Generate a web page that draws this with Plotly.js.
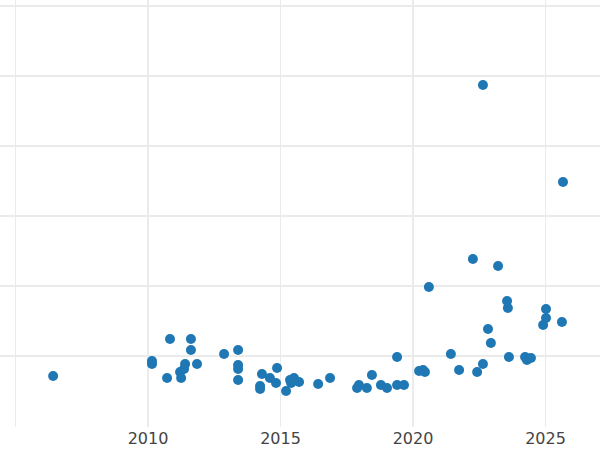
<!DOCTYPE html>
<html>
<head>
<meta charset="utf-8">
<script src="https://cdn.plot.ly/plotly-3.0.1.min.js"></script>
<style>html,body{margin:0;padding:0;background:#fff;}#chart{width:600px;height:450px;}</style>
</head>
<body>
<div id="chart"></div>
<script>
const years = [
  2006.42, 2010.15, 2010.15, 2010.83, 2011.62, 2011.62, 2010.72, 2011.40, 2011.36, 2011.21,
  2011.25, 2011.85, 2012.87, 2013.40, 2013.40, 2013.40, 2013.40, 2014.30, 2014.23, 2014.23,
  2014.60, 2014.87, 2014.83, 2015.21, 2015.40, 2015.51, 2015.70, 2015.36, 2016.42, 2016.87,
  2017.89, 2017.96, 2018.26, 2018.45, 2018.79, 2019.02, 2019.40, 2019.40, 2019.66, 2020.23,
  2020.38, 2020.45, 2020.60, 2021.43, 2021.74, 2022.26, 2022.42, 2022.64, 2022.64, 2022.83,
  2022.94, 2023.21, 2023.55, 2023.58, 2023.62, 2024.23, 2024.30, 2024.45, 2024.91, 2025.02,
  2025.02, 2025.62, 2025.66
];
const values = [
  7.14, 9.29, 8.86, 12.43, 12.43, 10.86, 6.86, 8.86, 8.14, 7.71,
  6.86, 8.86, 10.29, 10.86, 8.71, 8.14, 6.57, 7.43, 5.71, 5.29,
  6.86, 8.29, 6.14, 5.00, 6.14, 6.86, 6.29, 6.57, 6.00, 6.86,
  5.43, 5.86, 5.43, 7.29, 5.86, 5.43, 9.86, 5.86, 5.86, 7.86,
  8.00, 7.71, 19.86, 10.29, 8.00, 23.86, 7.71, 48.71, 8.86, 13.86,
  11.86, 22.86, 17.86, 16.86, 9.86, 9.86, 9.43, 9.71, 14.43, 15.43,
  16.71, 14.86, 34.86
];
const xTickVals = [2005, 2010, 2015, 2020, 2025];
const xTickText = ['', '2010', '2015', '2020', '2025'];
const yGridVals = [10, 20, 30, 40, 50, 60];

const trace = {
  x: years, y: values, type: 'scatter', mode: 'markers',
  marker: {color: '#1f77b4', size: 10},
  hoverinfo: 'x+y'
};
const layout = {
  width: 600, height: 450,
  margin: {l: 0, r: 0, t: 0, b: 23, pad: 0},
  paper_bgcolor: '#ffffff', plot_bgcolor: '#ffffff',
  showlegend: false,
  font: {family: 'DejaVu Sans, Verdana, sans-serif', color: '#444444', size: 16},
  xaxis: {
    range: [2004.415, 2027.057], tickvals: xTickVals, ticktext: xTickText,
    showgrid: true, gridcolor: '#ebebeb', gridwidth: 1.5, zeroline: false,
    showline: false, ticks: '', tickfont: {size: 16, color: '#444444'}
  },
  yaxis: {
    range: [-0.143, 60.857], tickvals: yGridVals, showticklabels: false,
    showgrid: true, gridcolor: '#ebebeb', gridwidth: 1.5, zeroline: false,
    showline: false, ticks: ''
  }
};
Plotly.newPlot('chart', [trace], layout, {displayModeBar: false, staticPlot: true});
</script>
</body>
</html>
